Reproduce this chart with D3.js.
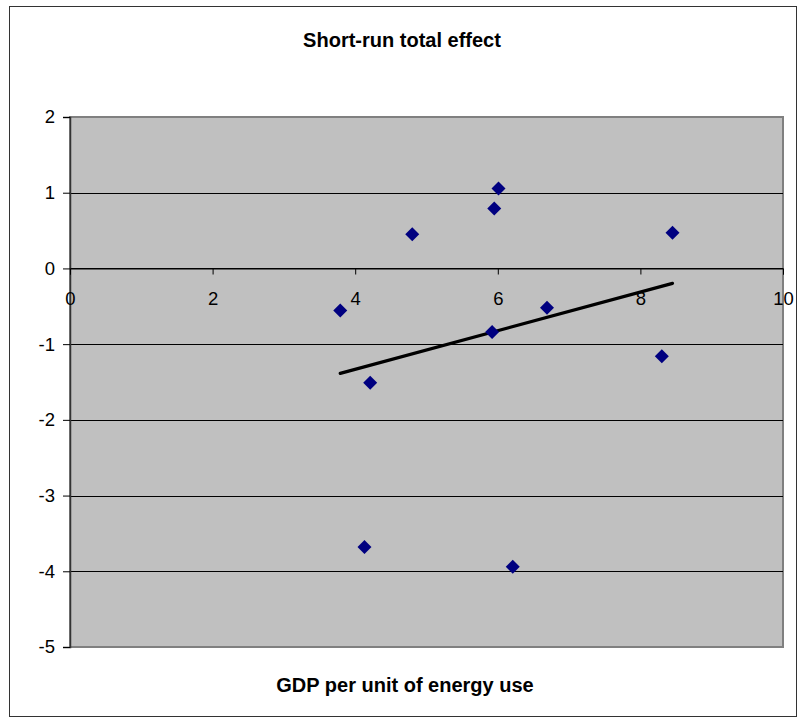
<!DOCTYPE html>
<html>
<head>
<meta charset="utf-8">
<script src="https://cdn.jsdelivr.net/npm/d3@7"></script>
<style>
  html, body { margin: 0; padding: 0; background: #fff; }
  svg { display: block; }
  text { font-family: "Liberation Sans", Arial, sans-serif; }
</style>
</head>
<body>
<svg id="chart" width="805" height="726"></svg>
<script>
// Data
const xValues = [3.79, 4.80, 5.95, 6.01, 5.92, 6.69, 4.21, 4.13, 6.21, 8.45, 8.30];
const yValues = [-0.555, 0.45, 0.79, 1.057, -0.84, -0.52, -1.51, -3.68, -3.94, 0.47, -1.16];
const xTicks = [0, 2, 4, 6, 8, 10];
const yTicks = [2, 1, 0, -1, -2, -3, -4, -5];
const titleText = "Short-run total effect";
const xTitleText = "GDP per unit of energy use";

const svg = d3.select("#chart");
const plot = { left: 70, right: 783, top: 117, bottom: 647 };

// outer frame
svg.append("rect").attr("x", 9.5).attr("y", 6.5).attr("width", 787).attr("height", 710)
  .attr("fill", "#fff").attr("stroke", "#333").attr("stroke-width", 1);

const x = d3.scaleLinear().domain([0, 10]).range([plot.left, plot.right]);
const y = d3.scaleLinear().domain([-5, 2]).range([plot.bottom, plot.top]);

// plot area
svg.append("rect").attr("x", plot.left).attr("y", plot.top)
  .attr("width", plot.right - plot.left).attr("height", plot.bottom - plot.top)
  .attr("fill", "#c0c0c0").attr("stroke", "#808080").attr("stroke-width", 2);

// gridlines
svg.append("g").selectAll("line").data(yTicks.filter(d => d < 2 && d > -5)).join("line")
  .attr("x1", plot.left).attr("x2", plot.right)
  .attr("y1", d => Math.round(y(d)) + 0.5).attr("y2", d => Math.round(y(d)) + 0.5)
  .attr("stroke", "#000").attr("stroke-width", 1);

const fmt = d => String(d);

// y axis
const yAxis = d3.axisLeft(y).tickValues(yTicks).tickSize(7).tickPadding(8).tickFormat(fmt);
const gy = svg.append("g").attr("transform", `translate(${plot.left},0)`).call(yAxis);
gy.select(".domain").attr("stroke", "#333").attr("stroke-width", 1.5);
gy.selectAll(".tick line").attr("stroke", "#000");
gy.selectAll(".tick text").attr("font-size", 18.5).attr("fill", "#000")
  .attr("font-family", "Liberation Sans, Arial, sans-serif");

// x axis at y=0
const xAxis = d3.axisBottom(x).tickValues(xTicks).tickSize(6).tickPadding(17).tickFormat(fmt);
const gx = svg.append("g").attr("transform", `translate(0,${Math.round(y(0)) + 0.5})`).call(xAxis);
gx.select(".domain").attr("stroke", "#000").attr("stroke-width", 1);
gx.selectAll(".tick line").attr("stroke", "#000");
gx.selectAll(".tick text").attr("font-size", 18.5).attr("fill", "#000")
  .attr("font-family", "Liberation Sans, Arial, sans-serif");

// trend line (least squares)
const n = xValues.length;
const mx = d3.mean(xValues), my = d3.mean(yValues);
let sxy = 0, sxx = 0;
for (let i = 0; i < n; i++) { sxy += (xValues[i] - mx) * (yValues[i] - my); sxx += (xValues[i] - mx) ** 2; }
const slope = sxy / sxx, intercept = my - slope * mx;
const x0 = d3.min(xValues), x1 = d3.max(xValues);
svg.append("line")
  .attr("x1", x(x0)).attr("y1", y(intercept + slope * x0))
  .attr("x2", x(x1)).attr("y2", y(intercept + slope * x1))
  .attr("stroke", "#000").attr("stroke-width", 3.2).attr("stroke-linecap", "round");

// markers
const pts = xValues.map((v, i) => [v, yValues[i]]);
svg.append("g").selectAll("path").data(pts).join("path")
  .attr("transform", d => `translate(${x(d[0])},${y(d[1])})`)
  .attr("d", "M0,-7L7,0L0,7L-7,0Z")
  .attr("fill", "#000080");

// titles
svg.append("text").attr("x", 402).attr("y", 47).attr("text-anchor", "middle")
  .attr("font-size", 20).attr("font-weight", "bold").text(titleText);
svg.append("text").attr("x", 405).attr("y", 692).attr("text-anchor", "middle")
  .attr("font-size", 20).attr("font-weight", "bold").text(xTitleText);
</script>
</body>
</html>
